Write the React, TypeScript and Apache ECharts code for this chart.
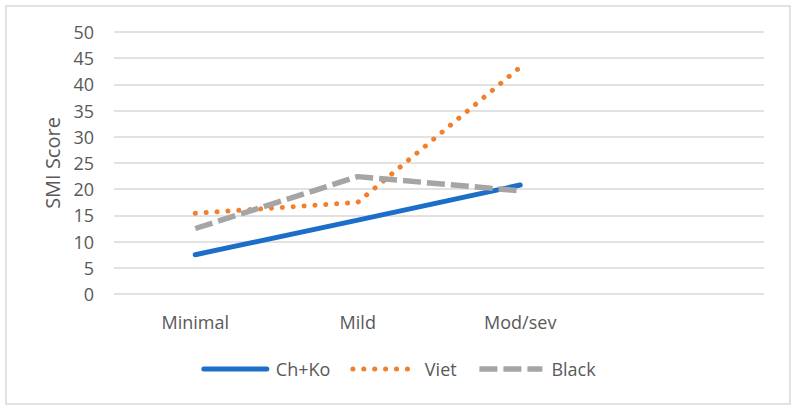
import React, { useEffect, useRef } from "react";
import * as echarts from "echarts";

const categories = ["Minimal", "Mild", "Mod/sev", ""];
const chKo = [7.5, 14.1, 20.8, null];
const viet = [15.4, 17.5, 43.3, null];
const black = [12.5, 22.4, 19.7, null];
const seriesNames = ["Ch+Ko", "Viet", "Black"];

const FONT = "Open Sans";
const GRAY = "#595959";
const BLUE = "#1B6FC8";
const ORANGE = "#F47F2A";
const GREY_LINE = "#A5A5A5";

const blueLine = { color: BLUE, width: 5, cap: "round" };
const orangeLine = { color: ORANGE, width: 5, type: [0.1, 10.8], cap: "round" };
const greyLine = { color: GREY_LINE, width: 5.5, type: [18, 6], cap: "butt" };

export default function App() {
  const ref = useRef<HTMLDivElement>(null);
  useEffect(() => {
    if (!ref.current) return;
    const chart = echarts.init(ref.current, undefined, { renderer: "svg" });
    chart.setOption({
      animation: false,
      textStyle: { fontFamily: FONT },
      graphic: [
        {
          type: "rect",
          shape: { x: 6, y: 6, width: 784, height: 398 },
          style: { fill: "none", stroke: "#D9D9D9", lineWidth: 1.5 },
          silent: true,
        },
      ],
      grid: { left: 114, right: 33, top: 32, bottom: 120, containLabel: false },
      legend: {
        bottom: 31,
        left: "center",
        itemWidth: 63,
        itemHeight: 14,
        itemGap: 20,
        textStyle: { color: GRAY, fontSize: 18, fontFamily: FONT, padding: [0, 0, 0, 4] },
        itemStyle: { opacity: 0 },
        data: [
          { name: seriesNames[0], lineStyle: blueLine },
          { name: seriesNames[1], lineStyle: orangeLine },
          { name: seriesNames[2], lineStyle: greyLine },
        ],
      },
      xAxis: {
        type: "category",
        data: categories,
        boundaryGap: true,
        axisLine: { show: false },
        axisTick: { show: false },
        axisLabel: { color: GRAY, fontSize: 18, margin: 19, fontFamily: FONT },
      },
      yAxis: {
        type: "value",
        min: 0,
        max: 50,
        interval: 5,
        name: "SMI Score",
        nameLocation: "middle",
        nameGap: 52,
        nameTextStyle: { color: GRAY, fontSize: 20, fontFamily: FONT },
        axisLine: { show: false },
        axisTick: { show: false },
        axisLabel: { color: GRAY, fontSize: 18, margin: 20, fontFamily: FONT },
        splitLine: { lineStyle: { color: "#D9D9D9", width: 1.5 } },
      },
      series: [
        {
          name: seriesNames[0],
          type: "line",
          data: chKo,
          symbol: "none",
          lineStyle: blueLine,
          itemStyle: { color: BLUE },
        },
        {
          name: seriesNames[1],
          type: "line",
          data: viet,
          symbol: "none",
          lineStyle: orangeLine,
          itemStyle: { color: ORANGE },
        },
        {
          name: seriesNames[2],
          type: "line",
          data: black,
          symbol: "none",
          lineStyle: greyLine,
          itemStyle: { color: GREY_LINE },
        },
      ],
    });
    return () => chart.dispose();
  }, []);
  return <div ref={ref} style={{ width: 797, height: 414, position: "absolute", left: 0, top: 0 }} />;
}
